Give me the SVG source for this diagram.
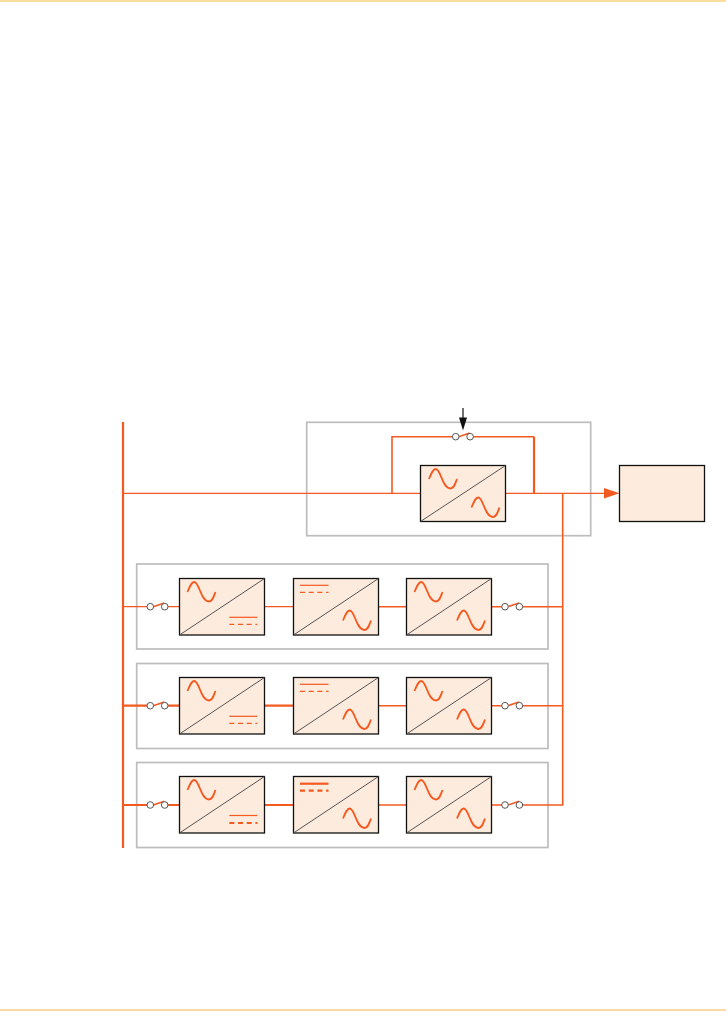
<svg xmlns="http://www.w3.org/2000/svg" width="726" height="1011" viewBox="0 0 726 1011">
<style>
.frame{fill:none;stroke:#bdbdbd;stroke-width:1.7}
.box{fill:#fdebdd;stroke:#111;stroke-width:1.3}
.diag{stroke:#555;stroke-width:1;fill:none}
.o{stroke:#f4591f;fill:none}
.t1{stroke-width:1.2}
.t15{stroke-width:1.6}
.t2{stroke-width:2.2}
.sine{stroke:#f4591f;fill:none;stroke-width:1.8}
.circ{fill:#fff;stroke:#555;stroke-width:1}
.dash{stroke-dasharray:5 3.7}
</style>
<defs>
<path id="sine" class="sine" d="M0 0C2.5-6 4-10 6.7-10C12-10 13 9.5 21.5 9.5C25 9.5 26 5 28 0"/>
<g id="switch"><path class="o t15" d="M3 0L14-3.7"/><circle class="circ" cx="0" cy="0" r="3.3"/><circle class="circ" cx="14.4" cy="0" r="3.3"/></g>
</defs>
<rect x="0" y="0" width="726" height="2" fill="#fbdca0"/>
<rect x="0" y="1009" width="726" height="2" fill="#fbdca0"/>

<g id="frames">
<rect class="frame" x="306.7" y="422.3" width="284" height="113.4"/>
<rect class="frame" x="136.7" y="564" width="411.3" height="85"/>
<rect class="frame" x="136.7" y="663.5" width="411.3" height="85"/>
<rect class="frame" x="136.7" y="762.5" width="411.3" height="85"/>
</g>

<g id="connectors">
<path class="o t2" d="M123 422V848"/>
<path class="o t1" d="M123 493.3H604"/>
<path class="o t15" d="M392 493.3V436.7H456M470 436.7H534"/>
<path class="o t2" d="M534 436.7V493.3"/>
<path class="o t15" d="M562.7 493.3V805.5"/>
<path d="M604 488L619.5 493.3L604 498.6Z" fill="#f4591f"/>
<path d="M463 408V420" stroke="#111" stroke-width="1.2" fill="none"/>
<path d="M459 417.5H467L463 430.5Z" fill="#111"/>
<path class="o t1" d="M123 606.7H150M165 606.7H180M264 606.7H294"/>
<path class="o t15" d="M378 606.7H407M491 606.7H505M519 606.7H562.7"/>
<path class="o t2" d="M123 705.7H150M165 705.7H180M264 705.7H294"/>
<path class="o t15" d="M378 705.7H407M491 705.7H505M519 705.7H562.7"/>
<path class="o t2" d="M123 805H150M165 805H180M264 805H294"/>
<path class="o t15" d="M378 805H407M491 805H505M519 805H562.7"/>
</g>

<g id="bypass-switch"><use href="#switch" x="455.7" y="436.7"/></g>
<g id="top-converter">
<rect class="box" x="420.5" y="465.5" width="85" height="56"/>
<path class="diag" d="M420.5 521.5L505.5 465.5"/>
<use href="#sine" x="429" y="479"/><use href="#sine" x="471.5" y="507.5"/>
</g>
<g id="load"><rect class="box" x="619.5" y="465.5" width="85" height="56"/></g>

<g id="row1">
<use href="#switch" x="150.3" y="606.7"/><use href="#switch" x="505" y="606.7"/>
<g id="r1-rect"><rect class="box" x="179.5" y="578.5" width="85" height="56.5"/><path class="diag" d="M179.5 635L264.5 578.5"/><use href="#sine" x="187.5" y="592"/>
<path class="o t1" d="M229.3 617.3H257.3"/><path class="o t1 dash" d="M229.3 624.3H257.3"/></g>
<g id="r1-inv"><rect class="box" x="293.5" y="578.5" width="85" height="56.5"/><path class="diag" d="M293.5 635L378.5 578.5"/><use href="#sine" x="343" y="620.5"/>
<path class="o t1" d="M300 585.3H328.5"/><path class="o t1 dash" d="M300 592.3H328.5"/></g>
<g id="r1-out"><rect class="box" x="406.5" y="578.5" width="85" height="56.5"/><path class="diag" d="M406.5 635L491.5 578.5"/><use href="#sine" x="414.5" y="592"/><use href="#sine" x="457" y="620.5"/></g>
</g>

<g id="row2">
<use href="#switch" x="150.3" y="705.7"/><use href="#switch" x="505" y="705.7"/>
<g id="r2-rect"><rect class="box" x="179.5" y="677.5" width="85" height="56.5"/><path class="diag" d="M179.5 734L264.5 677.5"/><use href="#sine" x="187.5" y="691"/>
<path class="o t1" d="M229.3 716.3H257.3"/><path class="o t1 dash" d="M229.3 723.3H257.3"/></g>
<g id="r2-inv"><rect class="box" x="293.5" y="677.5" width="85" height="56.5"/><path class="diag" d="M293.5 734L378.5 677.5"/><use href="#sine" x="343" y="719.5"/>
<path class="o t1" d="M300 684.3H328.5"/><path class="o t1 dash" d="M300 691.3H328.5"/></g>
<g id="r2-out"><rect class="box" x="406.5" y="677.5" width="85" height="56.5"/><path class="diag" d="M406.5 734L491.5 677.5"/><use href="#sine" x="414.5" y="691"/><use href="#sine" x="457" y="719.5"/></g>
</g>

<g id="row3">
<use href="#switch" x="150.3" y="805"/><use href="#switch" x="505" y="805"/>
<g id="r3-rect"><rect class="box" x="179.5" y="776.5" width="85" height="56.5"/><path class="diag" d="M179.5 833L264.5 776.5"/><use href="#sine" x="187.5" y="790"/>
<path class="o t1" d="M229.3 815.5H257.3"/><path class="o t2 dash" d="M229.3 823H257.3"/></g>
<g id="r3-inv"><rect class="box" x="293.5" y="776.5" width="85" height="56.5"/><path class="diag" d="M293.5 833L378.5 776.5"/><use href="#sine" x="343" y="818.5"/>
<path class="o t2" d="M300 783.7H328.5"/><path class="o t2 dash" d="M300 790.7H328.5"/></g>
<g id="r3-out"><rect class="box" x="406.5" y="776.5" width="85" height="56.5"/><path class="diag" d="M406.5 833L491.5 776.5"/><use href="#sine" x="414.5" y="790"/><use href="#sine" x="457" y="818.5"/></g>
</g>
</svg>
